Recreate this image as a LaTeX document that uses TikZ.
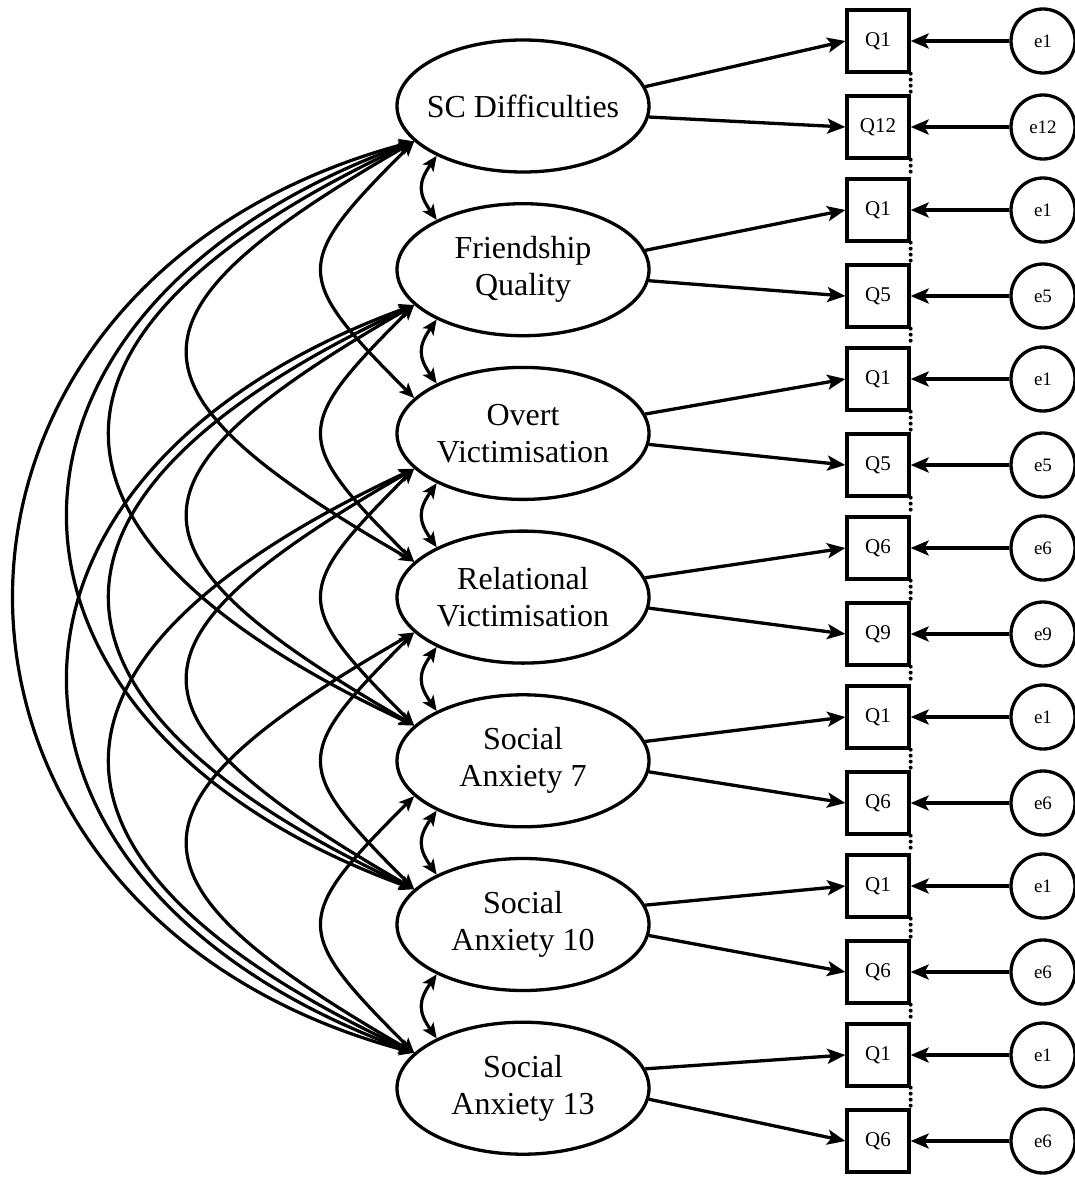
\documentclass[tikz,border=0pt]{standalone}
\usepackage{fontspec}
\setmainfont{Liberation Serif}
\usetikzlibrary{shapes.geometric,arrows.meta}
\begin{document}
\begin{tikzpicture}[x=1pt,y=1pt]
\tikzset{
 lat/.style={ellipse, draw, line width=3.3pt, minimum width=252pt, minimum height=132pt, inner sep=0pt, align=center, font=\fontsize{32}{37}\selectfont},
 obs/.style={rectangle, draw, line width=3.3pt, minimum size=62pt, inner sep=0pt, font=\fontsize{21}{24}\selectfont},
 err/.style={circle, draw, line width=3.3pt, minimum size=64pt, inner sep=0pt, font=\fontsize{19}{22}\selectfont},
 load/.style={line width=3.3pt, -{Stealth[length=18pt,width=15pt,inset=4pt]}},
 cov/.style={line width=3.2pt, {Stealth[length=15pt,width=13pt,inset=3.5pt]}-{Stealth[length=15pt,width=13pt,inset=3.5pt]}},
 dots/.style={line width=4pt, dash pattern=on 0pt off 6pt, line cap=round}
}
\useasboundingbox (0,-1177) rectangle (1075,0);
% latent variables
\node[lat] (e0) at (523,-106) {\makebox[160pt]{SC Difficulties}};
\node[lat] (e1) at (523,-269.7) {Friendship\\Quality};
\node[lat] (e2) at (523,-433.4) {Overt\\Victimisation};
\node[lat] (e3) at (523,-597.1) {Relational\\Victimisation};
\node[lat] (e4) at (523,-760.8) {Social\\Anxiety 7};
\node[lat] (e5) at (523,-924.5) {Social\\Anxiety 10};
\node[lat] (e6) at (523,-1088.2) {Social\\Anxiety 13};
% indicators and errors
\foreach \i/\a/\b/\ea/\eb in {0/Q1/Q12/e1/e12, 1/Q1/Q5/e1/e5, 2/Q1/Q5/e1/e5, 3/Q6/Q9/e6/e9, 4/Q1/Q6/e1/e6, 5/Q1/Q6/e1/e6, 6/Q1/Q6/e1/e6}{
  \node[obs] (qa\i) at (878,{-41-169*\i}) {\a};
  \node[obs] (qb\i) at (878,{-127-169*\i}) {\b};
  \node[err] (ra\i) at (1043,{-41-169*\i}) {\ea};
  \node[err] (rb\i) at (1043,{-127-169*\i}) {\eb};
  \draw[load] (e\i.9) -- (qa\i.west);
  \draw[load] (e\i.-5) -- (qb\i.west);
  \draw[load] (ra\i.west) -- (qa\i.east);
  \draw[load] (rb\i.west) -- (qb\i.east);
  \draw[dots] (qa\i.south east) -- (qb\i.north east);
}
\foreach \i in {0,...,5}{
  \pgfmathtruncatemacro\j{\i+1}
  \draw[dots] (qb\i.south east) -- (qa\j.north east);
  \draw[cov, out=235, in=125, looseness=1.3] (e\i.210) to (e\j.150);
}
% covariances
\foreach \k/\o/\n/\l in {2/225/135/1.73, 3/210/150/2.12, 4/205/155/1.96, 5/200/160/1.68, 6/195/165/1.55}{
  \pgfmathtruncatemacro\m{6-\k}
  \foreach \i in {0,...,\m}{
    \pgfmathtruncatemacro\j{\i+\k}
    \draw[cov, out=\o, in=\n, looseness=\l] (e\i.198) to (e\j.162);
  }
}
\end{tikzpicture}
\end{document}
